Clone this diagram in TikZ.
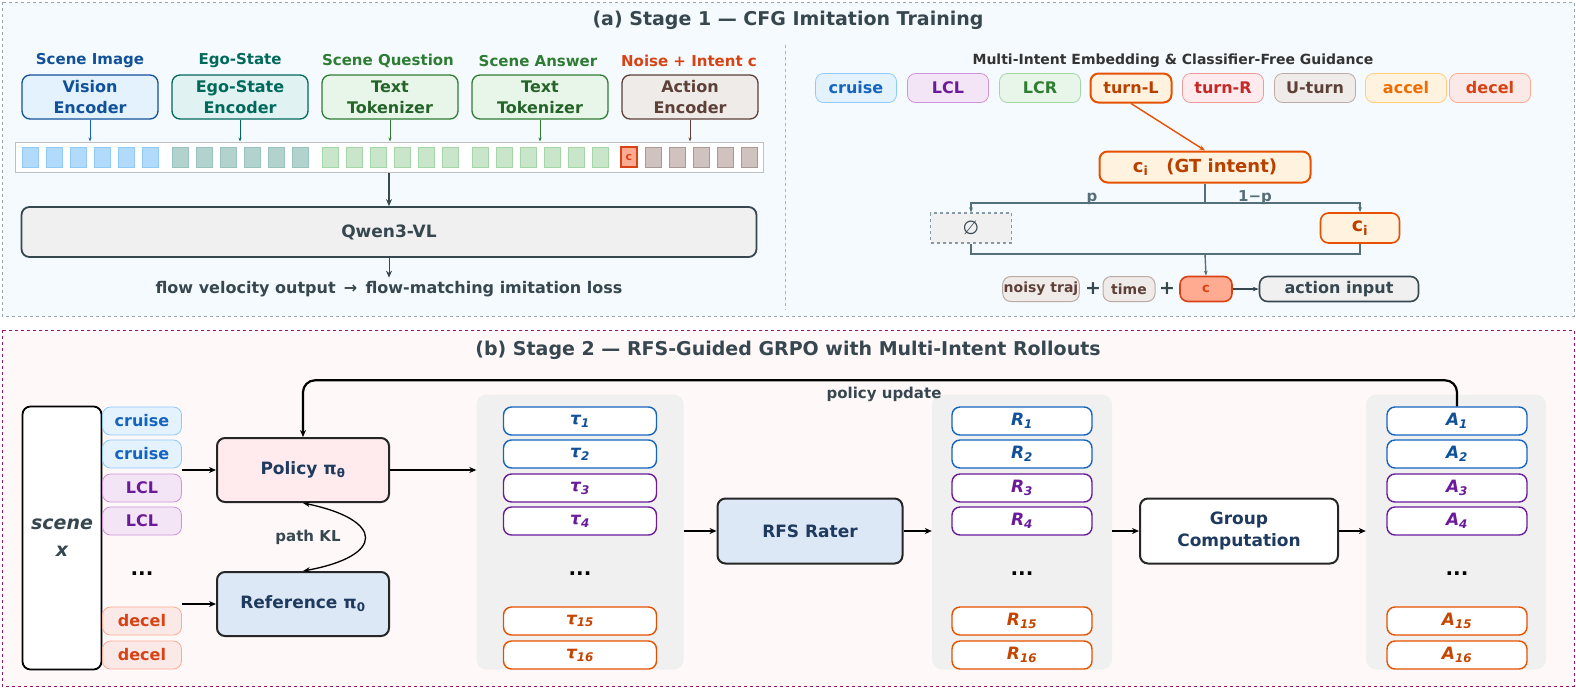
\documentclass[tikz,border=0pt]{standalone}
\usepackage{fontspec}
\setmainfont{DejaVu Sans}
\usetikzlibrary{arrows.meta,positioning}
\definecolor{slate}{HTML}{37474F}
\definecolor{wire}{HTML}{546E7A}
\definecolor{navy}{HTML}{1F3A5F}
\definecolor{bluT}{HTML}{1565C0}
\definecolor{bluF}{HTML}{E3F2FD}
\definecolor{bluB}{HTML}{90CAF9}
\definecolor{refF}{HTML}{DCE8F5}
\definecolor{purT}{HTML}{6A1B9A}
\definecolor{purF}{HTML}{F3E5F5}
\definecolor{purB}{HTML}{CE93D8}
\definecolor{grnT}{HTML}{2E7D32}
\definecolor{grnF}{HTML}{E8F5E9}
\definecolor{grnB}{HTML}{A5D6A7}
\definecolor{orgT}{HTML}{E65100}
\definecolor{orgF}{HTML}{FFF3E0}
\definecolor{redT}{HTML}{C62828}
\definecolor{redF}{HTML}{FFEBEE}
\definecolor{redB}{HTML}{EF9A9A}
\definecolor{brnT}{HTML}{5D4037}
\definecolor{brnF}{HTML}{EFEBE9}
\definecolor{brnB}{HTML}{BCAAA4}
\definecolor{accT}{HTML}{EF6C00}
\definecolor{accB}{HTML}{FFCC80}
\definecolor{decT}{HTML}{D84315}
\definecolor{decF}{HTML}{FBE9E7}
\definecolor{decB}{HTML}{FFAB91}
\definecolor{tealT}{HTML}{00695C}
\definecolor{tealF}{HTML}{E0F2F1}
\tikzset{
  lbl/.style={font=\bfseries\fontsize{15}{17}\selectfont},
  box/.style={draw, rounded corners=8pt, line width=1.3pt, align=center, inner sep=2pt,
    font=\bfseries\fontsize{16}{21}\selectfont},
  enc/.style={box, minimum width=136pt, minimum height=44pt},
  chip/.style={draw, rounded corners=8pt, line width=.8pt, minimum width=81pt, minimum height=29pt,
    inner sep=1pt, font=\bfseries\fontsize{16}{18}\selectfont},
  sch/.style={chip, minimum width=79pt, minimum height=28pt},
  tok/.style={draw, line width=.8pt, minimum width=16pt, minimum height=20pt, inner sep=0pt},
  rb/.style={draw, fill=white, rounded corners=8pt, line width=1.4pt, minimum height=28pt,
    font=\bfseries\fontsize{17}{19}\selectfont},
  grp/.style={fill=black!6, rounded corners=10pt, minimum height=275pt},
  big/.style={box, draw=black!85, line width=2pt, minimum width=172pt, minimum height=64pt, text=navy,
    font=\bfseries\fontsize{17}{22}\selectfont},
  arr/.style={-{Stealth[length=7pt,width=6pt]}, line width=1.3pt},
  cru/.style={fill=bluF, draw=bluB, text=bluT},
  lcl/.style={fill=purF, draw=purB, text=purT},
  lcr/.style={fill=grnF, draw=grnB, text=grnT},
  trl/.style={fill=orgF, draw=orgT, text=orgT!80!black, line width=2pt},
  trr/.style={fill=redF, draw=redB, text=redT},
  utn/.style={fill=brnF, draw=brnB, text=brnT},
  acc/.style={fill=orgF, draw=accB, text=accT},
  dec/.style={fill=decF, draw=decB, text=decT},
  tb/.style={draw=bluT, text=bluT!80!black},
  tp/.style={draw=purT, text=purT},
  to/.style={draw=orgT, text=orgT!85!black},
}
\begin{document}
\begin{tikzpicture}[x=1pt,y=-1pt]
  \useasboundingbox (0,0) rectangle (1576,689);
  % stage 1 panel
  \draw[wire!60, dashed, fill=bluF!35] (2,2) rectangle (1574,316);
  \node[font=\bfseries\fontsize{19}{22}\selectfont, text=slate] (ta) at (788,20) {(a) Stage 1 — CFG Imitation Training};
  \draw[wire!50, dashed] (785,45) -- (785,310);
  \node[lbl, text=bluT!80!black] (h1) at (90,61) {Scene Image};
  \node[lbl, text=tealT] (h2) at (240,61) {Ego-State};
  \node[lbl, text=grnT] (h3) at (388,61) {Scene Question};
  \node[lbl, text=grnT] (h4) at (538,61) {Scene Answer};
  \node[lbl, text=decT] (h5) at (689,61) {Noise + Intent c};
  \node[enc, fill=bluF, draw=bluT!80!black, text=bluT!80!black] (e1) at (90,97) {Vision\\Encoder};
  \node[enc, fill=tealF, draw=tealT, text=tealT] (e2) at (240,97) {Ego-State\\Encoder};
  \node[enc, fill=grnF, draw=grnT, text=grnT!80!black] (e3) at (390,97) {Text\\Tokenizer};
  \node[enc, fill=grnF, draw=grnT, text=grnT!80!black] (e4) at (540,97) {Text\\Tokenizer};
  \node[enc, fill=brnF, draw=brnT, text=brnT] (e5) at (690,97) {Action\\Encoder};
  \node[draw=black!25, fill=white, line width=1pt, minimum width=748pt, minimum height=30pt] (bar) at (389,157) {};
  \foreach \i in {0,...,5} {
    \node[tok, fill=bluB!70, draw=bluB] (v\i) at (30+24*\i,157) {};
    \node[tok, fill=tealT!30, draw=tealT!40] (g\i) at (180+24*\i,157) {};
    \node[tok, fill=grnB!60, draw=grnB] (q\i) at (330+24*\i,157) {};
    \node[tok, fill=grnB!60, draw=grnB] (s\i) at (480+24*\i,157) {};
  }
  \foreach \i in {1,...,5}
    \node[tok, fill=brnB!70, draw=brnB!90!black] (a\i) at (629+24*\i,157) {};
  \node[tok, fill=decB, draw=decT, line width=1.3pt, text=decT, font=\bfseries\fontsize{11}{12}\selectfont] (a0) at (629,157) {c};
  \foreach \e/\c in {e1/bluT, e2/tealT, e3/grnT, e4/grnT, e5/brnT}
    \draw[-{Stealth[length=4pt]}, \c, line width=1pt] (\e.south) -- (\e.south |- bar.north);
  \node[box, draw=slate, line width=1.8pt, fill=black!6, text=slate, minimum width=735pt, minimum height=50pt,
    font=\bfseries\fontsize{17}{20}\selectfont] (qw) at (389,232) {Qwen3-VL};
  \draw[arr, slate] (bar.south) -- (qw.north);
  \node[font=\bfseries\fontsize{16}{19}\selectfont, text=slate] (fl) at (389,289) {flow velocity output \,→\, flow-matching imitation loss};
  \draw[arr, slate, line width=1pt] (qw.south) -- (fl.north);
  % intent embedding and CFG
  \node[font=\bfseries\fontsize{14}{16}\selectfont, text=black!80] (hm) at (1173,61) {Multi-Intent Embedding \& Classifier-Free Guidance};
  \foreach \x/\t/\c/\n in {856/cruise/cru/i1, 948/LCL/lcl/i2, 1040/LCR/lcr/i3, 1131/turn-L/trl/i4,
      1223/turn-R/trr/i5, 1315/U-turn/utn/i6, 1406/accel/acc/i7, 1490/decel/dec/i8}
    \node[chip, \c] (\n) at (\x,88) {\t};
  \node[box, fill=orgF, draw=orgT, line width=2pt, text=orgT!80!black, minimum width=211pt, minimum height=31pt,
    font=\bfseries\fontsize{18}{21}\selectfont] (gt) at (1205,167) {c\textsubscript{i}\quad(GT intent)};
  \draw[-{Stealth[length=6pt]}, orgT, line width=1.4pt] (i4.south) -- (gt.north);
  \node[draw=wire!70, dashed, fill=black!6, line width=1.2pt, minimum width=81pt, minimum height=30pt,
    text=slate, font=\fontsize{19}{21}\selectfont] (nul) at (971,228) {∅};
  \node[box, fill=orgF, draw=orgT, line width=1.6pt, text=orgT!80!black, minimum width=79pt, minimum height=30pt,
    font=\bfseries\fontsize{19}{21}\selectfont] (ci) at (1360,228) {c\textsubscript{i}};
  \coordinate (sp) at (1205,203);
  \draw[wire, line width=2pt] (gt.south) -- (sp);
  \draw[-{Stealth[length=5pt]}, wire, line width=2pt] (sp) -| (nul.north);
  \draw[-{Stealth[length=5pt]}, wire, line width=2pt] (sp) -| (ci.north);
  \node[lbl, text=wire] (lp) at (1092,199) {p};
  \node[lbl, text=wire] (lq) at (1255,198) {1−p};
  \node[box, fill=decB, draw=decT, line width=1.6pt, text=decT, minimum width=52pt, minimum height=25pt,
    font=\bfseries\fontsize{13}{15}\selectfont] (cc) at (1206,289) {c};
  \coordinate (mg) at (1205,254);
  \draw[wire, line width=2pt] (nul.south) |- (mg) -| (ci.south);
  \draw[-{Stealth[length=5pt]}, wire, line width=1.4pt] (mg) -- (cc.north);
  \node[box, fill=brnF, draw=brnB, line width=1pt, text=brnT, minimum height=25pt, inner sep=1pt,
    font=\bfseries\fontsize{14}{16}\selectfont] (nt) at (1041,289) {noisy traj};
  \node[font=\bfseries\fontsize{19}{21}\selectfont, text=slate] (p1) at (1093,289) {+};
  \node[box, fill=brnF, draw=brnB, line width=1pt, text=brnT, minimum height=25pt, minimum width=52pt, inner sep=1pt,
    font=\bfseries\fontsize{14}{16}\selectfont] (tm) at (1129,289) {time};
  \node[font=\bfseries\fontsize{19}{21}\selectfont, text=slate] (p2) at (1167,289) {+};
  \node[box, fill=black!6, draw=slate, line width=1.6pt, text=slate, minimum width=159pt, minimum height=25pt,
    font=\bfseries\fontsize{16}{18}\selectfont] (ai) at (1339,289) {action input};
  \draw[-{Stealth[length=6pt]}, slate, line width=1.6pt] (cc) -- (ai);
  % stage 2 panel
  \draw[purT!70!red, dashed, fill=redF!35] (2,330) rectangle (1574,686);
  \node[font=\bfseries\fontsize{19}{22}\selectfont, text=slate] (tb) at (788,350) {(b) Stage 2 — RFS-Guided GRPO with Multi-Intent Rollouts};
  \node[draw=black, fill=white, line width=1.8pt, rounded corners=8pt, minimum width=79pt, minimum height=263pt,
    align=center, font=\bfseries\itshape\fontsize{19}{27}\selectfont, text=slate] (sx) at (62,538) {scene\\x};
  \foreach \y/\t/\c [count=\n] in {421/cruise/cru, 454/cruise/cru, 488/LCL/lcl, 521/LCL/lcl, 621/decel/dec, 655/decel/dec}
    \node[sch, \c] (k\n) at (142,\y) {\t};
  \node[font=\bfseries\fontsize{20}{22}\selectfont] (kd) at (142,574) {...};
  \node[big, fill=redF] (pol) at (303,470) {Policy π\textsubscript{θ}};
  \node[big, fill=refF] (ref) at (303,604) {Reference π\textsubscript{0}};
  \draw[arr] (k2.east |- pol.west) -- (pol.west);
  \draw[arr] (k5.east |- ref.west) -- (ref.west);
  \draw[{Stealth[length=7pt]}-{Stealth[length=7pt]}, line width=1.3pt] (pol.south) .. controls (385,520) and (385,556) .. (ref.north);
  \node[lbl, text=slate] (kl) at (308,537) {path KL};
  % rollout groups
  \node[grp, minimum width=207pt] (tg) at (580,532) {};
  \node[grp, minimum width=180pt] (rg) at (1022,532) {};
  \node[grp, minimum width=180pt] (ag) at (1456,532) {};
  \foreach \y/\s/\c in {421/1/tb, 454/2/tb, 488/3/tp, 521/4/tp, 621/15/to, 655/16/to} {
    \node[rb, \c, minimum width=153pt] (t\s) at (580,\y) {\itshape τ\textsubscript{\s}};
    \node[rb, \c, minimum width=140pt] (r\s) at (1022,\y) {\itshape R\textsubscript{\s}};
    \node[rb, \c, minimum width=140pt] (q\s) at (1457,\y) {\itshape A\textsubscript{\s}};
  }
  \foreach \x in {580,1022,1457}
    \node[font=\bfseries\fontsize{20}{22}\selectfont] at (\x,574) {...};
  \node[big, fill=refF, minimum width=185pt, minimum height=65pt] (rfs) at (810,531) {RFS Rater};
  \node[big, fill=white, minimum width=198pt, minimum height=65pt] (gc) at (1239,531) {Group\\Computation};
  \draw[arr] (pol.east) -- (pol.east -| tg.west);
  \draw[arr] (tg.east |- rfs.west) -- (rfs.west);
  \draw[arr] (rfs.east) -- (rfs.east -| rg.west);
  \draw[arr] (rg.east |- gc.west) -- (gc.west);
  \draw[arr] (gc.east) -- (gc.east -| ag.west);
  \draw[arr, line width=2.2pt, rounded corners=12pt] (q1.north) -- ++(0,-26) -| (pol.north);
  \node[lbl, text=slate] (pu) at (884,394) {policy update};
\end{tikzpicture}
\end{document}
